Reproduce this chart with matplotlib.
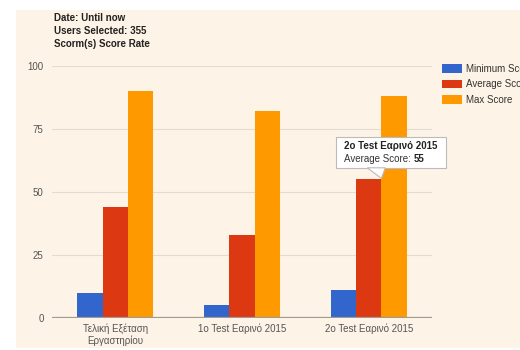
import numpy as np
import matplotlib.pyplot as plt
from matplotlib.patches import Rectangle, Polygon

plt.rcParams['font.family'] = ['Liberation Sans', 'DejaVu Sans']

categories = ["Τελική Εξέταση\nΕργαστηρίου", "1o Test Εαρινό 2015", "2o Test Εαρινό 2015"]
series_names = ["Minimum Score", "Average Score", "Max Score"]
min_score = [10, 5, 11]
avg_score = [44, 33, 55]
max_score = [90, 82, 88]
colors = ["#3366cc", "#dc3912", "#ff9900"]
yticks = [0, 25, 50, 75, 100]

BG = "#fdf3e6"

fig = plt.figure(figsize=(5.2, 3.5), dpi=100)
fig.patch.set_facecolor("white")
fig.patches.append(Rectangle((16 / 520, 2 / 350), 1, 338 / 350, transform=fig.transFigure,
                             facecolor=BG, edgecolor="none", zorder=-10))

ax = fig.add_axes([52 / 520, 32 / 350, 380 / 520, 252 / 350])
ax.set_facecolor("none")

x = np.arange(len(categories))
w = 0.2
for i, (vals, name) in enumerate(zip([min_score, avg_score, max_score], series_names)):
    ax.bar(x + (i - 1) * w, vals, w, color=colors[i], label=name, zorder=3)

ax.set_xlim(-0.5, 2.5)
ax.set_ylim(0, 100)
ax.set_yticks(yticks)
ax.set_yticklabels([str(t) for t in yticks])
ax.set_xticks(x)
ax.set_xticklabels(categories)
ax.grid(axis="y", color="#e2dcd2", linewidth=0.8, zorder=0)
ax.axhline(0, color="#a09a92", linewidth=1.6, zorder=4)
for s in ax.spines.values():
    s.set_visible(False)
ax.tick_params(axis="both", length=0, labelsize=7, colors="#555555")
ax.tick_params(axis="y", pad=6)
ax.tick_params(axis="x", pad=4)

# header text
fig.text(54 / 520, 1 - 18 / 350, "Date: Until now", fontsize=7, fontweight="bold",
         color="#222222", va="center")
fig.text(54 / 520, 1 - 31 / 350, "Users Selected: 355", fontsize=7, fontweight="bold",
         color="#222222", va="center")
fig.text(54 / 520, 1 - 44 / 350, "Scorm(s) Score Rate", fontsize=7, fontweight="bold",
         color="#222222", va="center")

# legend (cut off at the right edge, as in the original screenshot)
leg = fig.legend(loc="upper left", bbox_to_anchor=(438 / 520, 1 - 60 / 350), frameon=False,
                 fontsize=7, handlelength=2.1, handleheight=1.0, labelspacing=0.55,
                 handletextpad=0.35, borderaxespad=0)
for t in leg.get_texts():
    t.set_color("#333333")

# tooltip on the average score of the third group
fig.canvas.draw()
tip = ax.transData.transform((2 + 0.1, avg_score[2]))
tx, ty = tip
bl, br = tx - 45, tx + 65
bb, bt = ty + 11, ty + 42
box = Rectangle((bl, bb), br - bl, bt - bb, transform=None, facecolor="white",
                edgecolor="#bbbbbb", linewidth=0.8, zorder=10)
fig.patches.append(box)
tail = Polygon([(tx - 14, bb + 0.6), (tx, ty + 1), (tx + 4, bb + 0.6)], closed=True,
               transform=None, facecolor="white", edgecolor="#bbbbbb", linewidth=0.8, zorder=10)
fig.patches.append(tail)
tail_cover = Polygon([(tx - 13, bb + 1), (tx + 3, bb + 1), (tx + 3, bb + 2), (tx - 13, bb + 2)],
                     closed=True, transform=None, facecolor="white", edgecolor="none", zorder=11)
fig.patches.append(tail_cover)
fig.text((bl + 8) / 520, (bt - 9) / 350, categories[2], fontsize=7, fontweight="bold",
         color="#222222", va="center", zorder=12)
t1 = fig.text((bl + 8) / 520, (bt - 22) / 350, "Average Score: ", fontsize=7,
              color="#333333", va="center", zorder=12)
fig.canvas.draw()
ext = t1.get_window_extent()
fig.text(ext.x1 / 520, (bt - 22) / 350, str(avg_score[2]), fontsize=7, fontweight="bold",
         color="#222222", va="center", zorder=12)

fig.savefig("out.png", dpi=100, facecolor=fig.get_facecolor())
